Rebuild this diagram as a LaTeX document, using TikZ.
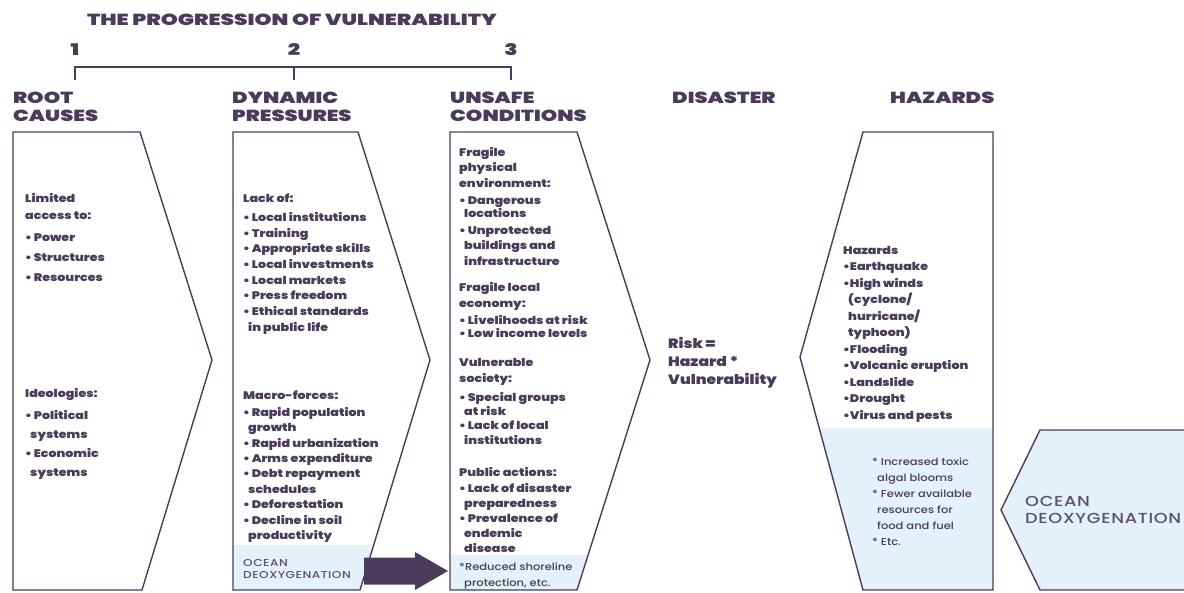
\documentclass[tikz,border=0pt]{standalone}
\usepackage{fontspec}
\setmainfont{Poppins}
\IfFontExistsTF{Poppins Black}{%
  \newfontfamily\hdrfam{Poppins Black}[FakeStretch=1.31]
  \newfontfamily\titlefam{Poppins Black}[FakeStretch=1.35]
  \newfontfamily\bodyfam{Poppins Black}[FakeStretch=1.15]
  \newcommand{\hdrfont}{\hdrfam}
  \newcommand{\titlefont}{\titlefam}
  \newcommand{\bodyfont}{\bodyfam}
}{%
  \newfontfamily\hdrfam{Poppins}[FakeStretch=1.39]
  \newfontfamily\titlefam{Poppins}[FakeStretch=1.44]
  \newfontfamily\bodyfam{Poppins}[FakeStretch=1.21]
  \newcommand{\hdrfont}{\hdrfam\bfseries}
  \newcommand{\titlefont}{\titlefam\bfseries}
  \newcommand{\bodyfont}{\bodyfam\bfseries}
}
\IfFontExistsTF{Poppins Medium}{%
  \newfontfamily\medfam{Poppins Medium}[FakeStretch=1.15]
  \newfontfamily\oceanfam{Poppins Medium}[FakeStretch=1.22,LetterSpace=5]
}{%
  \newfontfamily\medfam{Poppins}[FakeStretch=1.18]
  \newfontfamily\oceanfam{Poppins}[FakeStretch=1.25,LetterSpace=5]
}
\definecolor{ink}{HTML}{4B3B5A}
\definecolor{pale}{HTML}{E4F1F8}
\definecolor{oceanink}{HTML}{5D5068}
\newcommand{\fl}{\rule{0pt}{.8em}}
\newcommand{\bl}{\textbullet\,}
\newcommand{\ind}{\hspace*{5pt}}
\begin{document}
\begin{tikzpicture}[x=1pt,y=-1pt,
  boxline/.style={draw=ink,line width=1.4pt,line join=miter},
  hdr/.style={anchor=north west,inner sep=0pt,align=left,text=ink,font=\hdrfont\fontsize{16}{18}\selectfont},
  titletext/.style={inner sep=0pt,text=ink,font=\titlefont\fontsize{16}{18}\selectfont},
  body/.style={anchor=north west,inner sep=0pt,align=left,text=ink,font=\bodyfont\fontsize{11}{#1}\selectfont},
  body/.default=15.5,
  lighttext/.style={anchor=north west,inner sep=0pt,align=left,text=ink,font=\medfam\fontsize{10}{#1}\selectfont},
  lighttext/.default=16,
  oceansmall/.style={anchor=north west,inner sep=0pt,align=left,text=oceanink,font=\oceanfam\fontsize{10}{12.5}\selectfont},
  oceanbig/.style={anchor=north west,inner sep=0pt,align=left,text=oceanink,font=\oceanfam\fontsize{14.5}{17}\selectfont},
]
\useasboundingbox (0,0) rectangle (1184,592);

% pale fills
\fill[pale] (233,545) -- (373,545) -- (360,590) -- (233,590) -- cycle;
\fill[pale] (450,555) -- (588,555) -- (577,590) -- (450,590) -- cycle;
\fill[pale] (819,428) -- (993,428) -- (993,590) -- (863,590) -- cycle;

% arrow from dynamic pressures to unsafe conditions
\coordinate (arrS) at (364,571);
\coordinate (arrE) at (448,571);
\fill[ink] (arrS) ++(0,-13.5) -- ++(51,0) -- ++(0,-5.5) -- (arrE) -- ++(-33,19) -- ++(0,-5.5) -- ++(-51,0) -- cycle;

% boxes
\draw[boxline] (13,132) -- (140,132) -- (212,360) -- (142,590) -- (13,590) -- cycle;
\draw[boxline] (233,132) -- (358,132) -- (430,360) -- (360,590) -- (233,590) -- cycle;
\draw[boxline] (450,132) -- (577,132) -- (650,360) -- (577,590) -- (450,590) -- cycle;
\draw[boxline] (993,132) -- (863,132) -- (800,357) -- (863,590) -- (993,590) -- cycle;
\draw[boxline,fill=pale] (1190,430) -- (1040,430) -- (1001,510) -- (1040,590) -- (1190,590);

% title and bracket
\node[titletext] (title) at (292,20) {THE PROGRESSION OF VULNERABILITY};
\node[titletext] (n1) at (75,50) {1};
\node[titletext] (n2) at (294,50) {2};
\node[titletext] (n3) at (511,50) {3};
\coordinate (t1) at (75,67);
\coordinate (t2) at (294,67);
\coordinate (t3) at (511,67);
\draw[ink,line width=1.4pt] (75,80) -- (t1) -- (t3) -- (511,80);
\draw[ink,line width=1.4pt] (t2) -- (294,80);

% headers
\node[hdr] (h1) at (13,90) {\fl ROOT\\CAUSES};
\node[hdr] (h2) at (232,90) {\fl DYNAMIC\\PRESSURES};
\node[hdr] (h3) at (450,90) {\fl UNSAFE\\CONDITIONS};
\node[hdr] (h4) at (672,90) {\fl DISASTER};
\node[hdr] (h5) at (890,90) {\fl HAZARDS};

% root causes
\node[body=17] (rc1) at (25,193) {\fl Limited\\access to:};
\node[body=20] (rc2) at (25,232) {\fl\bl Power\\\bl Structures\\\bl Resources};
\node[body] (rc3) at (25,388) {\fl Ideologies:};
\node[body=19.2] (rc4) at (25,410) {\fl\bl Political\\\ind systems\\\bl Economic\\\ind systems};

% dynamic pressures
\node[body] (dp1) at (243,193) {\fl Lack of:};
\node[body=15.7] (dp2) at (243,212) {\fl\bl Local institutions\\\bl Training\\\bl Appropriate skills\\\bl Local investments\\\bl Local markets\\\bl Press freedom\\\bl Ethical standards\\\ind in public life};
\node[body] (dp3) at (243,390) {\fl Macro-forces:};
\node[body=15.4] (dp4) at (243,407) {\fl\bl Rapid population\\\ind growth\\\bl Rapid urbanization\\\bl Arms expenditure\\\bl Debt repayment\\\ind schedules\\\bl Deforestation\\\bl Decline in soil\\\ind productivity};
\node[oceansmall] (dp5) at (243,558) {\fl OCEAN\\DEOXYGENATION};

% unsafe conditions
\node[body] (uc1) at (459,147) {\fl Fragile\\physical\\environment:};
\node[body=13.5] (uc2) at (459,195) {\fl\bl Dangerous\\\ind locations};
\node[body] (uc3) at (459,225) {\fl\bl Unprotected\\\ind buildings and\\\ind infrastructure};
\node[body=16] (uc4) at (459,282) {\fl Fragile local\\economy:};
\node[body=13.5] (uc5) at (459,315) {\fl\bl Livelihoods at risk\\\bl Low income levels};
\node[body=16] (uc6) at (459,357) {\fl Vulnerable\\society:};
\node[body=14.3] (uc7) at (459,392) {\fl\bl Special groups\\\ind at risk\\\bl Lack of local\\\ind institutions};
\node[body] (uc8) at (459,467) {\fl Public actions:};
\node[body=15] (uc9) at (459,483) {\fl\bl Lack of disaster\\\ind preparedness\\\bl Prevalence of\\\ind endemic\\\ind disease};
\node[lighttext=16] (uc10) at (459,562) {\fl *Reduced shoreline\\\ind protection, etc.};

% disaster
\node[anchor=north west,inner sep=0pt,align=left,text=ink,font=\bodyfont\fontsize{13.5}{18}\selectfont] (risk) at (668,337) {\fl Risk =\\Hazard *\\Vulnerability};

% hazards
\node[body=16.5] (hz1) at (843,245) {\fl Hazards\\\textbullet Earthquake\\\textbullet High winds\\\ind(cyclone/\\\ind hurricane/\\\ind typhoon)\\\textbullet Flooding\\\textbullet Volcanic eruption\\\textbullet Landslide\\\textbullet Drought\\\textbullet Virus and pests};
\node[lighttext=16] (hz2) at (872,457) {\fl * Increased toxic\\\ind algal blooms\\* Fewer available\\\ind resources for\\\ind food and fuel\\* Etc.};

% ocean deoxygenation
\node[oceanbig] (oc) at (1025,495) {\fl OCEAN\\DEOXYGENATION};
\end{tikzpicture}
\end{document}
